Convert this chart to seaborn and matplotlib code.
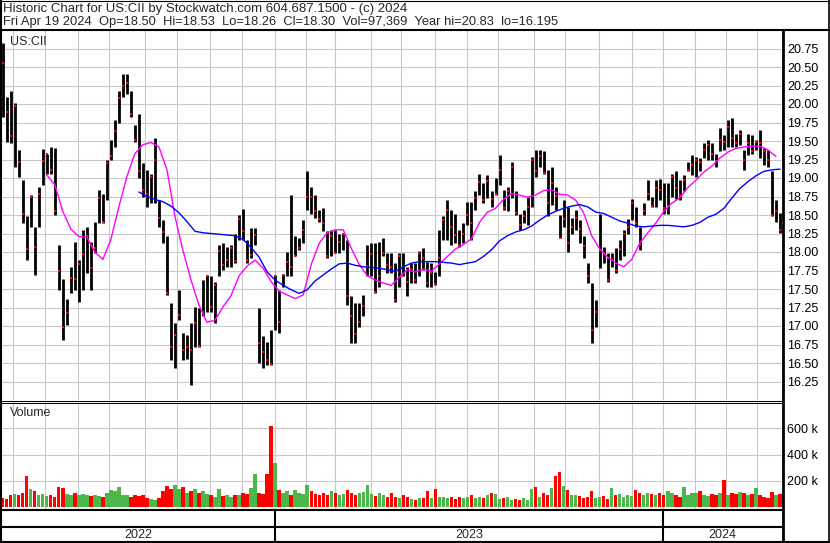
"""
Historic chart for US:CII (Stockwatch style): price bars, moving averages and volume
"""
import numpy as np
import pandas as pd
import matplotlib
matplotlib.use("Agg")
import matplotlib.pyplot as plt
from matplotlib.ticker import FuncFormatter
import seaborn as sns

# Price bars, one bar every ~2.6 sessions
HIGH = [
    20.82, 20.10, 20.17, 20.01, 19.38, 18.97, 18.48, 18.77, 18.34, 18.88,
    19.39, 19.33, 19.42, 19.41, 18.09, 17.64, 17.37, 17.80, 18.14, 17.89,
    18.30, 18.34, 18.14, 18.41, 18.84, 18.79, 19.24, 19.51, 19.78, 20.17,
    20.41, 20.41, 20.17, 19.72, 19.87, 19.20, 19.11, 19.06, 19.54, 18.70,
    18.43, 18.21, 17.31, 17.04, 17.49, 16.90, 16.88, 17.04, 17.26, 17.24,
    17.62, 17.69, 17.67, 17.60, 18.10, 18.12, 18.07, 18.10, 18.25, 18.50,
    18.58, 18.16, 18.32, 18.32, 17.24, 16.86, 16.79, 16.95, 17.69, 17.49,
    17.70, 18.00, 18.77, 18.21, 18.19, 18.43, 19.09, 18.88, 18.77, 18.57,
    18.60, 18.28, 18.30, 18.30, 18.25, 18.25, 18.16, 17.40, 17.31, 17.31,
    17.42, 18.10, 18.12, 18.12, 18.14, 18.19, 17.98, 17.98, 17.85, 17.98,
    17.98, 17.80, 17.85, 17.85, 18.01, 18.05, 17.87, 17.85, 17.73, 18.30,
    18.48, 18.70, 18.57, 18.52, 18.30, 18.39, 18.68, 18.68, 18.82, 19.06,
    18.93, 19.04, 18.82, 19.00, 19.31, 18.84, 18.88, 19.22, 18.82, 18.52,
    18.57, 18.75, 19.29, 19.38, 19.38, 19.36, 19.11, 19.15, 18.88, 18.50,
    18.70, 18.61, 18.46, 18.57, 18.43, 18.21, 17.85, 17.58, 17.35, 18.52,
    18.07, 17.98, 17.98, 18.05, 18.16, 18.30, 18.45, 18.72, 18.61, 18.34,
    18.66, 18.97, 18.75, 18.97, 18.99, 18.93, 18.93, 19.06, 19.09, 18.97,
    19.04, 19.22, 19.31, 19.29, 19.27, 19.47, 19.51, 19.47, 19.33, 19.67,
    19.58, 19.78, 19.81, 19.60, 19.65, 19.38, 19.60, 19.58, 19.51, 19.65,
    19.40, 19.38, 19.09, 18.70, 18.53,
]
LOW = [
    19.83, 19.49, 19.47, 19.15, 19.02, 18.39, 17.89, 18.34, 17.69, 18.34,
    18.91, 19.06, 19.06, 18.50, 17.48, 16.81, 17.01, 17.44, 17.49, 17.33,
    17.49, 17.71, 17.49, 17.98, 18.39, 18.39, 18.70, 19.24, 19.42, 19.74,
    20.10, 20.14, 19.83, 19.49, 19.00, 18.75, 18.61, 18.66, 18.66, 18.34,
    18.12, 17.42, 16.54, 16.43, 17.08, 16.54, 16.56, 16.20, 16.72, 16.72,
    17.13, 17.19, 17.19, 17.04, 17.67, 17.76, 17.80, 17.80, 17.85, 18.16,
    18.16, 17.85, 17.92, 18.10, 16.50, 16.43, 16.47, 16.47, 16.95, 16.90,
    17.53, 17.67, 17.67, 17.94, 18.03, 18.12, 18.57, 18.52, 18.46, 18.41,
    18.28, 17.92, 17.94, 17.98, 17.98, 18.03, 17.28, 16.77, 16.77, 16.99,
    17.13, 17.67, 17.67, 17.44, 17.53, 17.94, 17.71, 17.71, 17.33, 17.53,
    17.67, 17.40, 17.58, 17.58, 17.67, 17.76, 17.53, 17.53, 17.55, 17.67,
    18.16, 18.16, 18.10, 18.12, 18.07, 18.12, 18.37, 18.16, 18.57, 18.77,
    18.66, 18.73, 18.61, 18.77, 18.91, 18.57, 18.55, 18.73, 18.50, 18.30,
    18.39, 18.37, 18.61, 19.02, 19.15, 19.06, 18.48, 18.64, 18.57, 18.19,
    18.34, 18.00, 18.25, 18.30, 18.12, 17.92, 17.58, 16.77, 16.99, 17.78,
    17.85, 17.60, 17.80, 17.71, 17.89, 17.94, 18.25, 18.43, 18.34, 18.03,
    18.50, 18.70, 18.61, 18.61, 18.70, 18.52, 18.52, 18.75, 18.72, 18.70,
    18.82, 19.09, 19.04, 19.02, 19.09, 19.27, 19.24, 19.24, 19.15, 19.36,
    19.38, 19.42, 19.42, 19.42, 19.45, 19.11, 19.31, 19.33, 19.38, 19.27,
    19.18, 19.15, 18.48, 18.41, 18.26,
]
CLOSE = [
    20.56, 19.89, 19.57, 19.97, 19.21, 18.51, 18.04, 18.75, 18.07, 18.78,
    19.23, 19.32, 19.11, 18.56, 17.75, 16.99, 17.17, 17.65, 17.64, 17.84,
    17.97, 18.22, 17.78, 18.06, 18.73, 18.40, 19.20, 19.30, 19.64, 20.08,
    20.24, 20.28, 19.87, 19.51, 19.10, 18.84, 18.79, 19.01, 19.24, 18.46,
    18.27, 17.45, 16.71, 16.88, 17.15, 16.68, 16.72, 16.68, 17.04, 16.73,
    17.19, 17.67, 17.26, 17.56, 18.01, 17.83, 17.89, 18.06, 17.88, 18.44,
    18.29, 17.89, 17.96, 18.23, 16.77, 16.65, 16.54, 16.49, 17.68, 17.05,
    17.69, 17.87, 17.80, 17.94, 18.05, 18.30, 18.75, 18.74, 18.55, 18.44,
    18.39, 17.94, 18.22, 17.98, 18.14, 18.24, 17.40, 17.13, 16.89, 17.05,
    17.27, 17.81, 17.97, 17.46, 17.67, 17.98, 17.83, 17.80, 17.35, 17.95,
    17.67, 17.60, 17.77, 17.62, 17.98, 17.92, 17.58, 17.72, 17.57, 17.92,
    18.43, 18.57, 18.34, 18.23, 18.10, 18.25, 18.50, 18.39, 18.73, 18.95,
    18.70, 18.96, 18.71, 18.79, 19.11, 18.59, 18.82, 19.15, 18.53, 18.37,
    18.49, 18.61, 19.24, 19.09, 19.30, 19.07, 18.66, 18.93, 18.76, 18.19,
    18.44, 18.12, 18.34, 18.46, 18.31, 18.08, 17.67, 16.94, 17.19, 18.03,
    17.98, 17.62, 17.91, 17.76, 18.04, 18.25, 18.34, 18.66, 18.39, 18.10,
    18.55, 18.79, 18.62, 18.86, 18.84, 18.59, 18.62, 19.01, 18.86, 18.77,
    18.97, 19.11, 19.18, 19.24, 19.22, 19.38, 19.45, 19.33, 19.23, 19.51,
    19.48, 19.69, 19.54, 19.47, 19.60, 19.25, 19.47, 19.36, 19.49, 19.47,
    19.36, 19.24, 18.50, 18.55, 18.30,
]
# volume in thousands of shares, same bars
VOLUME_K = [
    70, 60, 90, 100, 95, 105, 240, 140, 120, 90,
    100, 85, 95, 80, 150, 145, 100, 95, 105, 90,
    100, 95, 85, 90, 85, 80, 110, 130, 120, 150,
    90, 95, 80, 90, 85, 95, 65, 60, 55, 70,
    125, 160, 140, 170, 135, 150, 110, 125, 140, 110,
    120, 100, 90, 75, 140, 85, 95, 80, 95, 90,
    110, 100, 145, 250, 110, 100, 250, 615, 335, 130,
    110, 120, 95, 130, 110, 100, 170, 120, 100, 90,
    110, 95, 120, 105, 90, 100, 130, 110, 95, 105,
    115, 170, 100, 85, 105, 95, 80, 110, 75, 65,
    90, 75, 60, 55, 70, 65, 125, 70, 140, 80,
    75, 70, 80, 60, 75, 70, 80, 90, 65, 75,
    70, 90, 105, 100, 60, 65, 80, 55, 60, 50,
    65, 55, 140, 150, 75, 105, 90, 145, 235, 270,
    160, 130, 90, 95, 85, 70, 80, 120, 70, 75,
    85, 60, 145, 90, 100, 80, 95, 85, 130, 105,
    95, 110, 100, 95, 105, 90, 120, 110, 95, 80,
    150, 90, 110, 105, 120, 95, 85, 100, 90, 105,
    205, 95, 110, 100, 115, 105, 90, 100, 145, 95,
    80, 70, 115, 95, 97,
]
# moving averages, one value every second bar
MA_FAST_START = 11   # magenta
MA_FAST = [
    19.04, 18.91, 18.55, 18.31, 18.21, 18.20, 18.00, 17.90, 18.17, 18.61,
    19.02, 19.33, 19.45, 19.48, 19.42, 19.11, 18.48, 18.02, 17.62, 17.28,
    17.05, 17.08, 17.26, 17.41, 17.68, 17.81, 17.89, 17.78, 17.60, 17.47,
    17.42, 17.37, 17.42, 17.83, 18.12, 18.26, 18.30, 18.30, 18.05, 17.83,
    17.68, 17.62, 17.58, 17.55, 17.66, 17.76, 17.73, 17.77, 17.74, 17.84,
    17.94, 18.04, 18.10, 18.18, 18.40, 18.54, 18.59, 18.71, 18.79, 18.77,
    18.74, 18.77, 18.83, 18.84, 18.78, 18.77, 18.70, 18.53, 18.22, 18.04,
    17.93, 17.85, 17.80, 17.90, 18.12, 18.26, 18.39, 18.55, 18.66, 18.73,
    18.87, 18.97, 19.08, 19.16, 19.27, 19.35, 19.40, 19.42, 19.43, 19.43,
    19.38, 19.29,
]
MA_SLOW_START = 34   # blue
MA_SLOW = [
    18.81, 18.75, 18.71, 18.68, 18.62, 18.53, 18.41, 18.28, 18.26, 18.25,
    18.24, 18.23, 18.22, 18.17, 18.06, 17.93, 17.73, 17.62, 17.55, 17.49,
    17.44, 17.49, 17.61, 17.69, 17.77, 17.84, 17.85, 17.82, 17.80, 17.79,
    17.78, 17.76, 17.74, 17.80, 17.85, 17.87, 17.87, 17.87, 17.86, 17.85,
    17.83, 17.85, 17.87, 17.94, 18.03, 18.15, 18.22, 18.27, 18.30, 18.35,
    18.43, 18.50, 18.55, 18.59, 18.62, 18.64, 18.61, 18.54, 18.52, 18.47,
    18.42, 18.39, 18.35, 18.34, 18.35, 18.36, 18.36, 18.35, 18.34, 18.36,
    18.40, 18.47, 18.51, 18.59, 18.73, 18.86, 18.95, 19.03, 19.09, 19.11,
    19.12,
]

PRICE_TICKS = [16.25, 16.50, 16.75, 17.00, 17.25, 17.50, 17.75, 18.00, 18.25,
               18.50, 18.75, 19.00, 19.25, 19.50, 19.75, 20.00, 20.25, 20.50, 20.75]
VOLUME_TICKS = [200_000, 400_000, 600_000]
HOLIDAYS = [
    "2022-05-30", "2022-06-20", "2022-07-04", "2022-09-05", "2022-11-24",
    "2022-12-26", "2023-01-02", "2023-01-16", "2023-02-20", "2023-04-07",
    "2023-05-29", "2023-06-19", "2023-07-04", "2023-09-04", "2023-11-23",
    "2023-12-25", "2024-01-01", "2024-01-15", "2024-02-19", "2024-03-29",
]
SYMBOL = "US:CII"
TITLE_1 = "Historic Chart for US:CII by Stockwatch.com 604.687.1500 - (c) 2024"
TITLE_2 = ("Fri Apr 19 2024  Op=18.50  Hi=18.53  Lo=18.26  Cl=18.30  "
           "Vol=97,369  Year hi=20.83  lo=16.195")

W, H = 830, 543
FS = 9.0
GRID = "#c8c8c8"

sns.set_style("white")
plt.rcParams["font.family"] = ["Liberation Sans", "DejaVu Sans"]

fig = plt.figure(figsize=(W / 100, H / 100), dpi=100)


def box(x0, y0, x1, y1):
    # pixel box -> figure fraction
    return [x0 / W, 1 - y1 / H, (x1 - x0) / W, (y1 - y0) / H]


ax_p = fig.add_axes(box(2, 30, 782, 400))
ax_v = fig.add_axes(box(2, 402, 782, 509), sharex=ax_p)
ax_d = fig.add_axes(box(2, 509, 782, 541), sharex=ax_p)

# trading-day axis
days = pd.bdate_range("2022-04-21", "2024-04-19", freq="C", holidays=HOLIDAYS)
n_days = len(days)
pos = np.linspace(0, n_days - 1, len(CLOSE))
months = days.to_period("M")
month_starts = np.flatnonzero(months[1:] != months[:-1]) + 1 - 0.5
years = days.year
year_starts = np.flatnonzero(years[1:] != years[:-1]) + 1 - 0.5

# grid
for ax in (ax_p, ax_v):
    for m in month_starts:
        ax.axvline(m, color=GRID, lw=0.75, zorder=0)
for t in PRICE_TICKS:
    ax_p.axhline(t, color=GRID, lw=0.75, zorder=0)
for t in VOLUME_TICKS:
    ax_v.axhline(t, color=GRID, lw=0.75, zorder=0)

# price bars + closes
ax_p.vlines(pos, LOW, HIGH, color="black", lw=2.0, zorder=2)
sns.scatterplot(x=pos, y=CLOSE, ax=ax_p, color="red", marker="s", s=3.5,
                linewidth=0, zorder=3, legend=False)

# moving averages
fast_x = pos[MA_FAST_START::2][:len(MA_FAST)]
slow_x = pos[MA_SLOW_START::2][:len(MA_SLOW)]
sns.lineplot(x=fast_x, y=MA_FAST[:len(fast_x)], ax=ax_p, color="#ff00ff",
             lw=1.0, legend=False, zorder=4)
sns.lineplot(x=slow_x, y=MA_SLOW[:len(slow_x)], ax=ax_p, color="#0000ff",
             lw=1.0, legend=False, zorder=4)

# volume, coloured by close vs previous close
close = np.array(CLOSE)
chg = np.r_[-1, np.sign(np.diff(close))]
vol_colors = np.where(chg > 0, "#4cb84c", np.where(chg < 0, "#ff0000", "#a8a8a8"))
ax_v.bar(pos, np.array(VOLUME_K) * 1000, width=(pos[1] - pos[0]) * 0.85,
         color=vol_colors, linewidth=0, zorder=2)

xlim = (-0.45, n_days - 1 + 1.3)
ax_p.set_xlim(*xlim)
ax_p.set_ylim(16.0, 21.0)
ax_v.set_ylim(-15_000, 800_000)
ax_d.set_ylim(0, 1)

ax_p.yaxis.tick_right()
ax_p.set_yticks(PRICE_TICKS)
ax_p.yaxis.set_major_formatter(FuncFormatter(lambda v, _: f"{v:.2f}"))
ax_v.yaxis.tick_right()
ax_v.set_yticks(VOLUME_TICKS)
ax_v.yaxis.set_major_formatter(FuncFormatter(lambda v, _: f"{int(v / 1000)} k"))
for ax in (ax_p, ax_v, ax_d):
    ax.tick_params(axis="y", length=0, pad=3.6, labelsize=FS, labelcolor="black")
    ax.tick_params(axis="x", bottom=False, labelbottom=False)
    ax.set_xlabel("")
    ax.set_ylabel("")
    for sp in ax.spines.values():
        sp.set_visible(False)
ax_d.set_yticks([])

# year strip
for ys in year_starts:
    ax_d.axvline(ys, color="black", lw=1.5)
bounds = [xlim[0], *year_starts, xlim[1]]
for i in range(len(bounds) - 1):
    mid = (bounds[i] + bounds[i + 1]) / 2
    yr = days[int(np.clip(np.ceil(mid), 0, n_days - 1))].year
    ax_d.text(mid, 0.19, str(yr), ha="center", va="center", fontsize=FS,
              transform=ax_d.get_xaxis_transform())

# frame and header, in pixel coordinates
ov = fig.add_axes([0, 0, 1, 1])
ov.set_xlim(0, W)
ov.set_ylim(H, 0)
ov.axis("off")
line = dict(color="black", solid_capstyle="butt")
ov.plot([0, W], [0.5, 0.5], lw=0.8, **line)
ov.plot([0, W], [30, 30], lw=1.5, **line)
ov.plot([1, 1], [0, H], lw=1.5, **line)
ov.plot([829, 829], [0, H], lw=1.2, **line)
ov.plot([0, W], [541.5, 541.5], lw=1.5, **line)
ov.plot([0, 782], [400.5, 400.5], lw=0.75, **line)
ov.plot([0, 782], [402.5, 402.5], lw=0.75, **line)
ov.plot([0, 782], [509.5, 509.5], lw=1.5, **line)
ov.plot([0, 782], [526.5, 526.5], lw=1.5, **line)
ov.plot([782.5, 782.5], [30, H], lw=2.0, **line)

ov.text(2.7, 9, TITLE_1, ha="left", va="center", fontsize=9.55)
ov.text(2.7, 22.5, TITLE_2, ha="left", va="center", fontsize=9.25)
ov.text(9.5, 41.7, SYMBOL, ha="left", va="center", fontsize=FS)
ov.text(9.5, 413.3, "Volume", ha="left", va="center", fontsize=FS)

fig.savefig("out.png", dpi=100)
plt.close(fig)
